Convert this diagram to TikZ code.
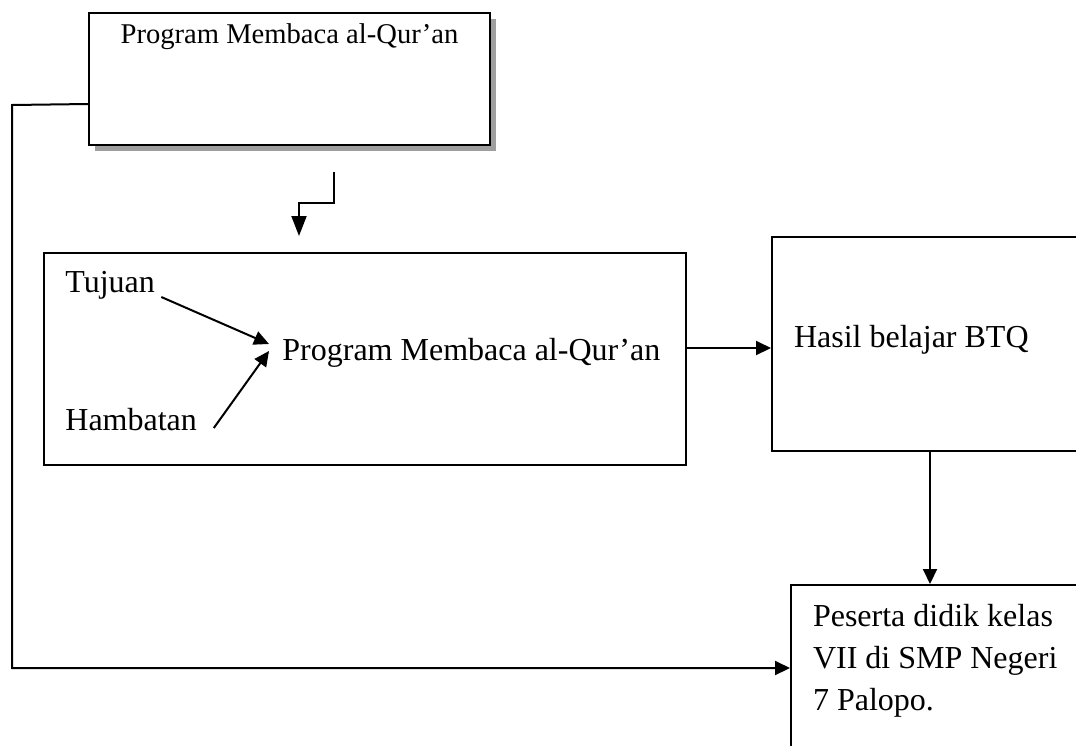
\documentclass[tikz,border=0pt]{standalone}
\usepackage{fontspec}
\setmainfont{Liberation Serif}
\usetikzlibrary{arrows.meta,shadows}

\newcommand{\toptext}{\fontsize{14.3}{18}\selectfont}
\newcommand{\bigtext}{\fontsize{16}{21}\selectfont}

\begin{document}
\begin{tikzpicture}[x=0.5pt, y=-0.5pt,
    box/.style={draw, line width=1pt, rectangle, inner sep=0pt, fill=white},
    arr/.style={-{Triangle[length=7.5pt, width=7pt]}, line width=1pt, black},
    word/.style={font=\bigtext, inner sep=0pt}]
    \useasboundingbox (0,0) rectangle (1076,745);
    \clip (0,0) rectangle (1076,745);

    % 1. Top box with shadow
    \node[box, anchor=north west, minimum width=200.5pt, text height=15pt, text depth=51pt,
          font=\toptext, drop shadow={shadow xshift=3pt, shadow yshift=-3pt, fill=gray!75, opacity=1}]
          (program) at (88,12) {Program Membaca al-Qur'an};

    % 2. Middle box and its texts
    \node[box, anchor=north west, minimum width=321pt, minimum height=106pt] (kegiatan) at (43,252) {};
    \node[word, anchor=base west] (tujuan) at (65,292) {Tujuan};
    \node[word, anchor=base west] (hambatan) at (65,430) {Hambatan};
    \node[word, anchor=base west] (inti) at (282,360) {Program Membaca al-Qur'an};

    % 3. Right boxes
    \node[box, anchor=north west, font=\bigtext, text width=130.5pt, align=flush left, inner xsep=11pt,
          text height=55pt, text depth=52pt] (hasil) at (771,236) {Hasil belajar BTQ};
    \node[box, anchor=north west, font=\bigtext, text width=128pt, align=flush left, inner xsep=11pt,
          text height=20.5pt, text depth=62.5pt] (peserta) at (790,584)
          {Peserta didik kelas\\VII di SMP Negeri\\7 Palopo.};

    % 4. Arrows inside the middle box
    \draw[arr] ([xshift=3pt, yshift=-2.5pt]tujuan.base east) -- ([xshift=-6.5pt, yshift=8pt]inti.base west);
    \draw[arr] ([xshift=8.25pt, yshift=1pt]hambatan.base east) -- ([xshift=-6.5pt, yshift=4.5pt]inti.base west);

    % 5. Bent arrow under the top box
    \coordinate (bendtop) at (334,172);
    \coordinate (bendend) at (299,236);
    \draw[arr, -{Triangle[length=10pt, width=7.5pt]}] (bendtop) -- ++(0,31) -| (bendend);

    % 6. Connections between the boxes
    \draw[arr] ([yshift=5.5pt]kegiatan.east) -- ([yshift=5.5pt]kegiatan.east -| hasil.west);
    \draw[arr] ([xshift=2.75pt]hasil.south) -- ([xshift=2.75pt]hasil.south |- peserta.north);
    \draw[arr] ([yshift=-12.5pt]program.west) -- (12,105) |- (peserta.west);

\end{tikzpicture}
\end{document}
